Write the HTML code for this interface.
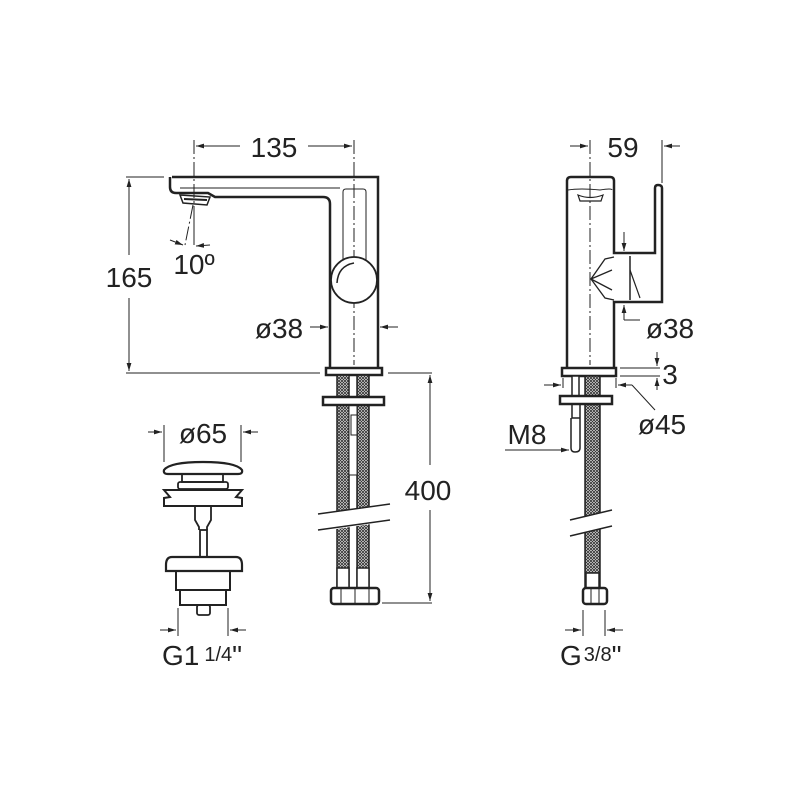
<!DOCTYPE html>
<html><head><meta charset="utf-8"><style>
html,body{margin:0;padding:0;background:#fff}
svg{display:block}
text{font-family:"Liberation Sans",sans-serif;fill:#222}
</style></head><body>
<svg width="800" height="800" viewBox="0 0 800 800" xmlns="http://www.w3.org/2000/svg">
<defs>
<pattern id="br" width="3" height="3" patternUnits="userSpaceOnUse">
<rect width="3" height="3" fill="#fff"/>
<path d="M0 0L3 3M3 0L0 3" stroke="#333" stroke-width="0.9"/>
</pattern>
<marker id="a" viewBox="0 0 10 10" refX="10" refY="5" markerWidth="8" markerHeight="8" orient="auto-start-reverse" markerUnits="userSpaceOnUse">
<path d="M0 2L10 5L0 8z" fill="#222"/>
</marker>
</defs>
<g stroke="#222" fill="none" stroke-width="1">
<!-- ===== LEFT TAP ===== -->
<line x1="354" y1="140" x2="354" y2="365" stroke-dasharray="14 3 2 3"/>
<line x1="194" y1="140" x2="194" y2="210" stroke-dasharray="14 3 2 3"/>
<line x1="193" y1="205" x2="185" y2="245" stroke-dasharray="14 3 2 3"/>
<line x1="194" y1="210" x2="194" y2="245"/>
<line x1="196" y1="146" x2="240" y2="146" marker-start="url(#a)"/>
<line x1="308" y1="146" x2="352" y2="146" marker-end="url(#a)"/>
<path d="M172 177H378V368M330 368V204Q330 197 323 197H215L208 193H176Q170 193 170 187V177" stroke-width="2.5"/>
<path d="M180 188H340"/>
<path d="M343 280V192Q343 189 346 189H363Q366 189 366 192V280" />
<circle cx="354" cy="280" r="23" fill="#fff" stroke-width="1.8"/>
<path d="M337 283Q338 266 354 263" stroke-width="1.5"/>
<path d="M180 195L210 197L207 205L183 203Z" stroke-width="1.5"/>
<line x1="184" y1="199" x2="207" y2="200" stroke-width="2"/>
<line x1="170" y1="240" x2="183" y2="245" marker-end="url(#a)"/>
<line x1="210" y1="245" x2="196" y2="246" marker-end="url(#a)"/>
<line x1="126" y1="177" x2="164" y2="177"/>
<line x1="126" y1="373" x2="320" y2="373"/>
<line x1="129" y1="179" x2="129" y2="255" marker-start="url(#a)"/>
<line x1="129" y1="298" x2="129" y2="371" marker-end="url(#a)"/>
<line x1="310" y1="327" x2="328" y2="327" marker-end="url(#a)"/>
<line x1="398" y1="327" x2="380" y2="327" marker-end="url(#a)"/>
<rect x="326" y="368" width="56" height="7" stroke-width="2.5" fill="#fff"/>
<rect x="337" y="375" width="12" height="213" fill="url(#br)" stroke-width="1.5"/>
<rect x="357" y="375" width="12" height="213" fill="url(#br)" stroke-width="1.5"/>
<rect x="349" y="405" width="8" height="70" fill="#fff"/>
<rect x="351" y="415" width="6" height="20" fill="#fff"/>
<rect x="323" y="397" width="61" height="8" stroke-width="2.5" fill="#fff"/>
<path d="M316 514L392 503L392 521L316 532Z" fill="#fff" stroke="none"/>
<path d="M318 514L390 504M318 530L390 520" stroke-width="1.5"/>
<rect x="337" y="568" width="12" height="20" fill="#fff" stroke-width="1.5"/>
<rect x="357" y="568" width="12" height="20" fill="#fff" stroke-width="1.5"/>
<rect x="331" y="588" width="48" height="16" rx="3" fill="#fff" stroke-width="2.5"/>
<path d="M341 588V604M355 588V604M369 588V604"/>
<line x1="388" y1="373" x2="432" y2="373"/>
<line x1="382" y1="603" x2="432" y2="603"/>
<line x1="430" y1="375" x2="430" y2="465" marker-start="url(#a)"/>
<line x1="430" y1="510" x2="430" y2="601" marker-end="url(#a)"/>

<!-- ===== POP-UP WASTE ===== -->
<line x1="164" y1="425" x2="164" y2="462"/>
<line x1="241" y1="425" x2="241" y2="462"/>
<line x1="148" y1="432" x2="162" y2="432" marker-end="url(#a)"/>
<line x1="258" y1="432" x2="243" y2="432" marker-end="url(#a)"/>
<path d="M164 470Q170 462 203 462Q236 462 242 470Q243 474 238 474H168Q163 474 164 470Z" stroke-width="2.2"/>
<rect x="182" y="474" width="41" height="8" stroke-width="1.8"/>
<rect x="178" y="482" width="50" height="7" rx="2" stroke-width="1.8"/>
<path d="M164 490H242L236 497L242 498V506H164V498L170 497Z" stroke-width="2"/>
<path d="M195 506V520L199 527V530M211 506V520L207 527V530" stroke-width="1.8"/>
<rect x="200" y="530" width="7" height="27" stroke-width="1.8"/>
<path d="M166 565Q166 557 172 557H236Q242 557 242 565V571H166Z" stroke-width="2.2"/>
<path d="M176 571V590H230V571M180 590V605H226V590" stroke-width="2"/>
<rect x="197" y="605" width="13" height="10" rx="2" stroke-width="1.8"/>
<line x1="178" y1="608" x2="178" y2="636"/>
<line x1="228" y1="608" x2="228" y2="636"/>
<line x1="160" y1="630" x2="176" y2="630" marker-end="url(#a)"/>
<line x1="246" y1="630" x2="230" y2="630" marker-end="url(#a)"/>

<!-- ===== RIGHT VIEW ===== -->
<line x1="590" y1="140" x2="590" y2="365" stroke-dasharray="14 3 2 3"/>
<line x1="570" y1="146" x2="588" y2="146" marker-end="url(#a)"/>
<line x1="680" y1="146" x2="664" y2="146" marker-end="url(#a)"/>
<line x1="662" y1="140" x2="662" y2="183"/>
<path d="M567 368V181Q567 177 571 177H610Q614 177 614 181V253H655V188Q655 185 658 185Q662 185 662 188V302H614V368" stroke-width="2.5"/>
<path d="M568 190Q580 188 600 190Q612 188 612 190"/>
<path d="M578 195Q590 200 603 195L601 201H580Z" stroke-width="1.2"/>
<path d="M614 257L605 259L591 279L605 298L614 300M591 279L612 270M591 279L612 290" stroke-width="1.3"/>
<line x1="630" y1="256" x2="630" y2="300" stroke-width="1.5"/>
<path d="M630 270L640 298" stroke-width="1.2"/>
<line x1="624" y1="232" x2="624" y2="251" marker-end="url(#a)"/>
<path d="M624 320V305" marker-end="url(#a)"/>
<line x1="624" y1="320" x2="640" y2="320"/>
<rect x="562" y="368" width="54" height="8" stroke-width="2.5" fill="#fff"/>
<line x1="620" y1="368" x2="660" y2="368"/>
<line x1="620" y1="376" x2="660" y2="376"/>
<line x1="657" y1="352" x2="657" y2="366" marker-end="url(#a)"/>
<line x1="657" y1="390" x2="657" y2="378" marker-end="url(#a)"/>
<line x1="563" y1="378" x2="563" y2="388"/>
<line x1="616" y1="378" x2="616" y2="388"/>
<line x1="544" y1="385" x2="561" y2="385" marker-end="url(#a)"/>
<line x1="632" y1="385" x2="618" y2="385" marker-end="url(#a)"/>
<line x1="632" y1="385" x2="655" y2="410"/>
<rect x="585" y="376" width="15" height="212" fill="url(#br)" stroke-width="1.5"/>
<rect x="572" y="376" width="7" height="20" fill="#fff" stroke-width="1.5"/>
<rect x="560" y="396" width="52" height="8" stroke-width="2.5" fill="#fff"/>
<path d="M572 404V418H580V404M571 418V448Q571 452 575 452Q580 452 580 448V418" stroke-width="1.5"/>
<line x1="505" y1="450" x2="569" y2="450" marker-end="url(#a)"/>
<path d="M568 520L614 509L614 526L568 537Z" fill="#fff" stroke="none"/>
<path d="M570 520L612 510M570 536L612 526" stroke-width="1.5"/>
<rect x="586" y="573" width="13" height="15" fill="#fff" stroke-width="1.5"/>
<rect x="583" y="588" width="24" height="16" rx="3" fill="#fff" stroke-width="2.5"/>
<path d="M591 588V604M599 588V604"/>
<line x1="583" y1="610" x2="583" y2="636"/>
<line x1="605" y1="610" x2="605" y2="636"/>
<line x1="565" y1="630" x2="581" y2="630" marker-end="url(#a)"/>
<line x1="623" y1="630" x2="607" y2="630" marker-end="url(#a)"/>
</g>
<g font-size="28">
<text x="274" y="157" text-anchor="middle">135</text>
<text x="194" y="274" text-anchor="middle">10º</text>
<text x="129" y="287" text-anchor="middle">165</text>
<text x="279" y="338" text-anchor="middle">ø38</text>
<text x="428" y="500" text-anchor="middle">400</text>
<text x="203" y="443" text-anchor="middle">ø65</text>
<text x="162" y="665">G1<tspan font-size="20" dx="5" dy="-4">1/4</tspan><tspan dy="4">"</tspan></text>
<text x="623" y="157" text-anchor="middle">59</text>
<text x="670" y="338" text-anchor="middle">ø38</text>
<text x="670" y="384" text-anchor="middle">3</text>
<text x="662" y="434" text-anchor="middle">ø45</text>
<text x="527" y="444" text-anchor="middle">M8</text>
<text x="560" y="665">G<tspan font-size="20" dx="2" dy="-4">3/8</tspan><tspan dy="4">"</tspan></text>
</g>
</svg>
</body></html>
